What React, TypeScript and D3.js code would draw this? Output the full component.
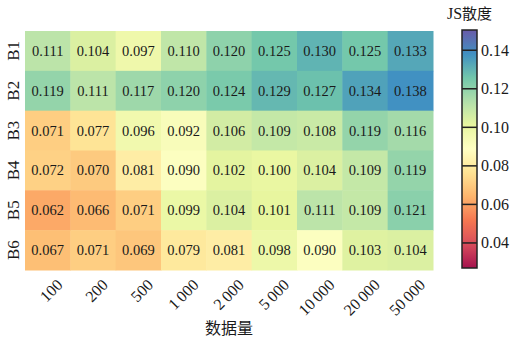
import React from "react";
import * as d3 from "d3";

const rows = ["B1", "B2", "B3", "B4", "B5", "B6"];
const cols = ["100", "200", "500", "1\u2009000", "2\u2009000", "5\u2009000", "10\u2009000", "20\u2009000", "50\u2009000"];
const values: number[][] = [
  [0.111, 0.104, 0.097, 0.110, 0.120, 0.125, 0.130, 0.125, 0.133],
  [0.119, 0.111, 0.117, 0.120, 0.124, 0.129, 0.127, 0.134, 0.138],
  [0.071, 0.077, 0.096, 0.092, 0.106, 0.109, 0.108, 0.119, 0.116],
  [0.072, 0.070, 0.081, 0.090, 0.102, 0.100, 0.104, 0.109, 0.119],
  [0.062, 0.066, 0.071, 0.099, 0.104, 0.101, 0.111, 0.109, 0.121],
  [0.067, 0.071, 0.069, 0.079, 0.081, 0.098, 0.090, 0.103, 0.104],
];
const colorTicks = [0.04, 0.06, 0.08, 0.1, 0.12, 0.14];
const colorDomain = [0.027, 0.1505];

const serif = "'Times New Roman', 'Liberation Serif', serif";
const cjk = "'Noto Sans CJK SC', sans-serif";

export default function App() {
  const W = 518, H = 340;
  const left = 25, right = 433, top = 31, bottom = 270;
  const x = d3.scaleBand<string>().domain(cols).range([left, right]);
  const y = d3.scaleBand<string>().domain(rows).range([top, bottom]);

  // Piecewise-linear Spectral ramp through the 11 anchor colours
  const anchors = d3.schemeSpectral[11];
  const ramp = d3
    .scaleLinear<string>()
    .domain(anchors.map((_, i) => colorDomain[0] + (i / (anchors.length - 1)) * (colorDomain[1] - colorDomain[0])))
    .range(anchors)
    .interpolate(d3.interpolateRgb)
    .clamp(true);
  const color = (v: number) => {
    const c = d3.rgb(ramp(v));
    const a = 0.93;
    return d3.rgb(c.r * a + 255 * (1 - a), c.g * a + 255 * (1 - a), c.b * a + 255 * (1 - a)).toString();
  };

  const cbX = 462, cbW = 15, cbTop = 30, cbBot = 268;
  const cy = d3.scaleLinear().domain(colorDomain).range([cbBot, cbTop]);
  const stops = d3.range(0, 1.0001, 0.025);

  return (
    <svg width={W} height={H} style={{ position: "absolute", left: 0, top: 0, background: "#fff" }}>
      <defs>
        <linearGradient id="cbar" x1="0" y1="1" x2="0" y2="0">
          {stops.map((t) => (
            <stop key={t} offset={t} stopColor={color(colorDomain[0] + t * (colorDomain[1] - colorDomain[0]))} />
          ))}
        </linearGradient>
      </defs>
      {values.map((row, i) =>
        row.map((v, j) => (
          <g key={`${i}-${j}`}>
            <rect x={x(cols[j])} y={y(rows[i])} width={x.bandwidth() + 0.5} height={y.bandwidth() + 0.5} fill={color(v)} />
            <text
              x={x(cols[j])! + x.bandwidth() / 2}
              y={y(rows[i])! + y.bandwidth() / 2}
              textAnchor="middle"
              dominantBaseline="central"
              fontFamily={serif}
              fontSize={14.5}
              fill="#1a1a1a"
            >
              {v.toFixed(3)}
            </text>
          </g>
        ))
      )}
      {rows.map((r) => (
        <text
          key={r}
          transform={`translate(${left - 6},${y(r)! + y.bandwidth() / 2}) rotate(-90)`}
          textAnchor="middle"
          fontFamily={serif}
          fontSize={17}
          fill="#1a1a1a"
        >
          {r}
        </text>
      ))}
      {cols.map((c) => (
        <text
          key={c}
          transform={`translate(${x(c)! + x.bandwidth() / 2 + 8},${bottom + 8}) rotate(-45)`}
          textAnchor="end"
          dominantBaseline="hanging"
          fontFamily={serif}
          fontSize={16}
          fill="#1a1a1a"
        >
          {c}
        </text>
      ))}
      <text x={(left + right) / 2} y={334} textAnchor="middle" fontFamily={cjk} fontSize={16} fill="#1a1a1a">
        数据量
      </text>
      <rect x={cbX} y={cbTop} width={cbW} height={cbBot - cbTop} fill="url(#cbar)" stroke="#222" strokeWidth={1.5} />
      {colorTicks.map((t) => (
        <g key={t}>
          <line x1={cbX} x2={cbX + cbW} y1={cy(t)} y2={cy(t)} stroke="#222" strokeWidth={1.5} />
          <text x={cbX + cbW + 4} y={cy(t)} dominantBaseline="central" fontFamily={serif} fontSize={16} fill="#1a1a1a">
            {t.toFixed(2)}
          </text>
        </g>
      ))}
      <text x={cbX + cbW / 2} y={19} textAnchor="middle" fontFamily={serif} fontSize={16} fill="#1a1a1a">
        JS<tspan fontFamily={cjk} fontSize={15}>散度</tspan>
      </text>
    </svg>
  );
}
